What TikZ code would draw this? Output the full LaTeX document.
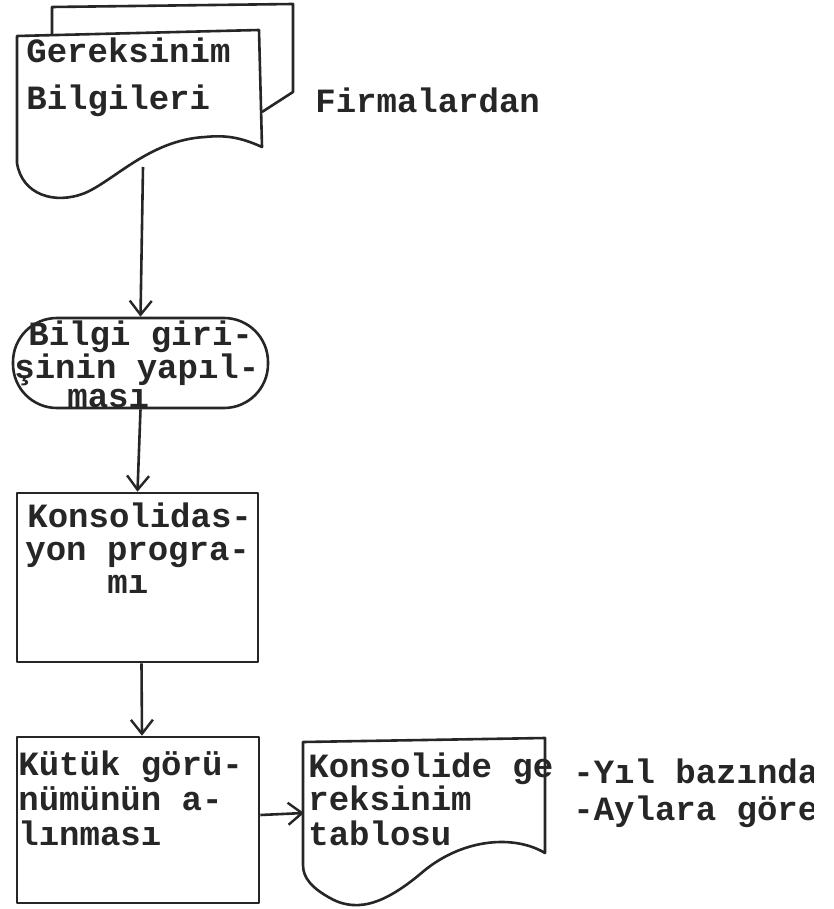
\documentclass[tikz,border=0pt]{standalone}
\usepackage{fontspec}
\usetikzlibrary{arrows.meta,calc}
\newfontfamily\typewriter{Liberation Mono}
\begin{document}
\begin{tikzpicture}[x=0.5pt,y=-0.5pt,
  outline/.style={draw=black!85, line width=1.3pt, line join=round},
  flow/.style={draw=black!85, line width=1.3pt, -{Straight Barb[length=7pt,width=11pt,line width=1.2pt]}},
  txt/.style={anchor=base west, inner sep=0pt, font=\typewriter\bfseries\fontsize{17pt}{20pt}\selectfont, text=black!85},
  boxnode/.style={outline, rectangle, inner sep=0pt},
]
\useasboundingbox (0,0) rectangle (834,909);
\fill[white] (0,0) rectangle (834,909);

% stacked input documents
\draw[outline] (52,34) -- (52,7) -- (293,4) -- (293,92) -- (262,112);
\draw[outline] (262,147) .. controls (240,137) and (225,135) .. (205,137)
  .. controls (150,140) and (115,180) .. (85,193)
  .. controls (55,205) and (22,195) .. (17,163) -- (17,36) -- (259,30) -- cycle;
\coordinate (src) at (143,167);
\node[txt] (g1) at (26,63) {Gereksinim};
\node[txt] (g2) at (26,110) {Bilgileri};
\node[txt] (firm) at (315,113) {Firmalardan};

% data entry
\node[boxnode, rounded corners=22pt, minimum width=127.5pt, minimum height=45pt] (entry) at (140.5,363) {};
\node[txt] (e1) at (28,345) {Bilgi giri-};
\node[txt] (e2) at (14,378) {şinin yapıl-};
\node[txt] (e3) at (67,407) {ması};

% consolidation program
\node[boxnode, minimum width=120.5pt, minimum height=84.5pt] (prog) at (137.5,577.5) {};
\node[txt] (p1) at (27,527) {Konsolidas-};
\node[txt] (p2) at (25,560) {yon progra-};
\node[txt] (p3) at (107,593) {mı};

% file view
\node[boxnode, minimum width=121pt, minimum height=83pt] (kutuk) at (138,820) {};
\node[txt] (k1) at (18,775) {Kütük görü-};
\node[txt] (k2) at (18,810) {nümünün a-};
\node[txt] (k3) at (18,845) {lınması};

% output document
\draw[outline] (545,853) .. controls (515,835) and (465,838) .. (425,870)
  .. controls (390,900) and (360,915) .. (330,898)
  .. controls (312,888) and (303,878) .. (303,865) -- (303,742) -- (545,738) -- cycle;
\coordinate (out) at (304,813);
\node[txt] (o1) at (308,777) {Konsolide ge};
\node[txt] (o2) at (308,810) {reksinim};
\node[txt] (o3) at (308,845) {tablosu};

\begin{scope}
  \clip (560,740) rectangle (813,850);
  \node[txt] (r1) at (573,783) {-Yıl bazında};
  \node[txt] (r2) at (573,820) {-Aylara göre};
\end{scope}

% flow lines
\draw[flow] (src) -- (entry.north);
\draw[flow] (entry.south) -- (prog.north);
\draw[flow] ($(prog.south)+(4,0)$) -- ($(kutuk.north)+(4,0)$);
\draw[flow] ($(kutuk.east)+(0,-5)$) -- (out);
\end{tikzpicture}
\end{document}
